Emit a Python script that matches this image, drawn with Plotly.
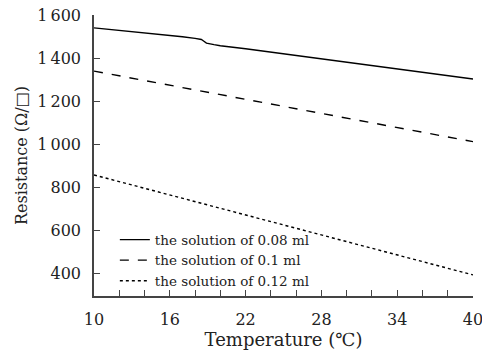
import plotly.graph_objects as go

# Data
t_008 = [10, 12, 14, 16, 17, 18, 18.5, 18.7, 18.9, 19.5, 20, 22, 25, 28, 31, 34, 37, 40]
r_008 = [1540, 1529, 1518, 1505, 1499, 1491, 1486, 1478, 1469, 1462, 1457, 1443, 1420, 1397, 1374, 1350, 1326, 1302]
t_01 = [10, 16, 22, 28, 34, 40]
r_01 = [1339, 1273, 1207, 1142, 1076, 1011]
t_012 = [10, 16, 22, 28, 34, 40]
r_012 = [856, 763, 670, 577, 484, 391]
names = ["the solution of 0.08 ml", "the solution of 0.1 ml", "the solution of 0.12 ml"]

x_tickvals = list(range(10, 41, 2))
x_ticktext = [str(v) if (v - 10) % 6 == 0 else "" for v in x_tickvals]
y_tickvals = [400, 600, 800, 1000, 1200, 1400, 1600]
y_ticktext = ["400", "600", "800", "1\u2009000", "1\u2009200", "1\u2009400", "1\u2009600"]

FONT = "DejaVu Serif"
fig = go.Figure()
for t, r, n, d in [(t_008, r_008, names[0], "solid"), (t_01, r_01, names[1], "dash"), (t_012, r_012, names[2], "dot")]:
    fig.add_trace(go.Scatter(x=t, y=r, name=n, mode="lines",
                             line=dict(color="black", width=1.4, dash=d)))

axis_col = "#444444"
fig.update_layout(
    width=482, height=354,
    margin=dict(l=94, r=9, t=15, b=58),
    paper_bgcolor="white", plot_bgcolor="white",
    font=dict(family=FONT, color="#222222", size=16),
    showlegend=True,
    legend=dict(x=0.055, y=0.255, xanchor="left", yanchor="top",
                bgcolor="rgba(0,0,0,0)", font=dict(size=13.5, family=FONT, color="#222222"),
                itemwidth=30, tracegroupgap=0),
    xaxis=dict(range=[10, 40], tickvals=x_tickvals, ticktext=x_ticktext,
               ticks="inside", ticklen=6, tickcolor=axis_col, tickwidth=1.3,
               showline=True, linecolor=axis_col, linewidth=1.5, showgrid=False, zeroline=False,
               ticklabelstandoff=8, ticklabeloverflow="allow", automargin=False,
               title=dict(text="Temperature (\u2103)", font=dict(size=18, family=FONT), standoff=4)),
    yaxis=dict(range=[293, 1600], tickvals=y_tickvals, ticktext=y_ticktext,
               ticks="inside", ticklen=6, tickcolor=axis_col, tickwidth=1.3,
               showline=True, linecolor=axis_col, linewidth=1.5, showgrid=False, zeroline=False,
               ticklabelstandoff=8, automargin=False,
               title=dict(text="Resistance (\u03a9/\u25a1)", font=dict(size=16, family=FONT), standoff=6)),
)
fig.write_html("out.html")
